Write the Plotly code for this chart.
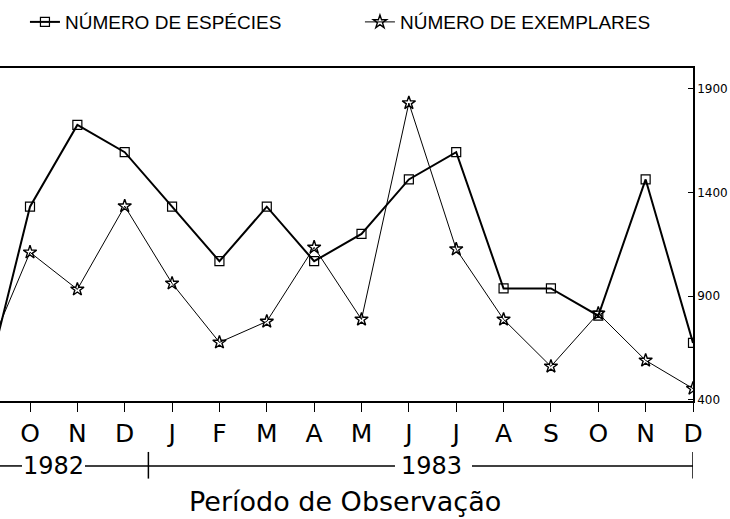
import plotly.graph_objects as go

# meses de observacao (S/1982 fica fora do recorte, a esquerda)
meses = ["S", "O", "N", "D", "J", "F", "M", "A", "M", "J", "J", "A", "S", "O", "N", "D"]
posicoes = list(range(len(meses)))

num_especies = [2, 9, 12, 11, 9, 7, 9, 7, 8, 10, 11, 6, 6, 5, 10, 4]
num_exemplares = [569, 1111, 932, 1334, 961, 676, 777, 1135, 787, 1832, 1126, 787, 560, 816, 589, 453]

ticks_exemplares = [400, 900, 1400, 1900]
anos = ["1982", "1983"]

PRETO = "black"
FONTE = "DejaVu Sans"

fig = go.Figure()

fig.add_trace(go.Scatter(
    x=posicoes, y=num_especies, name="NÚMERO DE ESPÉCIES",
    mode="lines+markers", yaxis="y",
    line=dict(color=PRETO, width=2),
    marker=dict(symbol="square-open", size=9, color=PRETO, line=dict(width=1.2)),
))

fig.add_trace(go.Scatter(
    x=posicoes, y=num_exemplares, name="NÚMERO DE EXEMPLARES",
    mode="lines+markers", yaxis="y2",
    line=dict(color=PRETO, width=1),
    marker=dict(symbol="star-open", size=10, color=PRETO, line=dict(width=1.4)),
))

# escala do eixo x: 1 mes = px_mes pixels, O/1982 em x=30px
px_mes = 47.36
def xpx(px):
    return 1 + (px - 30) / px_mes

x_ini = xpx(0)
x_fim = posicoes[-1]

# linha dos anos abaixo dos meses
y_ano = -0.195
segmentos = [(x_ini, xpx(22)), (xpx(85), xpx(395)), (xpx(472), x_fim)]
for a, b in segmentos:
    fig.add_shape(type="line", xref="x", yref="paper", x0=a, x1=b, y0=y_ano, y1=y_ano,
                  line=dict(color=PRETO, width=1.5))
for xv in [3.5, x_fim]:
    fig.add_shape(type="line", xref="x", yref="paper", x0=xv, x1=xv, y0=-0.153, y1=-0.233,
                  line=dict(color=PRETO, width=1.5))

fig.add_annotation(x=xpx(53), y=y_ano, xref="x", yref="paper", text=anos[0], showarrow=False,
                   yanchor="middle", font=dict(family=FONTE, size=24, color=PRETO))
fig.add_annotation(x=xpx(432), y=y_ano, xref="x", yref="paper", text=anos[1], showarrow=False,
                   yanchor="middle", font=dict(family=FONTE, size=24, color=PRETO))
fig.add_annotation(x=xpx(345), y=-0.302, xref="x", yref="paper", text="Período de Observação",
                   showarrow=False, yanchor="middle", font=dict(family=FONTE, size=27, color=PRETO))

fig.update_layout(
    width=730, height=519,
    margin=dict(l=0, r=37, t=68, b=118),
    paper_bgcolor="white", plot_bgcolor="white",
    showlegend=True,
    legend=dict(orientation="h", x=0.036, xanchor="left", y=1.138, yanchor="middle",
                font=dict(family="Liberation Sans", size=19, color=PRETO),
                bgcolor="rgba(0,0,0,0)", entrywidth=290, entrywidthmode="pixels"),
    xaxis=dict(
        range=[x_ini, x_fim], tickvals=posicoes, ticktext=meses,
        showgrid=False, zeroline=False,
        showline=True, mirror=True, linecolor=PRETO, linewidth=1.5,
        ticks="outside", ticklen=9, tickwidth=1, tickcolor=PRETO,
        tickfont=dict(family=FONTE, size=25, color=PRETO),
    ),
    yaxis=dict(range=[1.87, 14.09], visible=False, showgrid=False),
    yaxis2=dict(
        range=[393, 2001], overlaying="y", side="right",
        tickvals=ticks_exemplares, showgrid=False, zeroline=False,
        showline=True, linecolor=PRETO, linewidth=1.5,
        ticks="inside", ticklen=5, tickcolor=PRETO,
        tickfont=dict(family=FONTE, size=12, color=PRETO),
    ),
)

# sem margem do body, a figura ocupa a janela inteira
fig.write_html("out.html", config={"displayModeBar": False},
               post_script="document.body.style.margin='0';")
